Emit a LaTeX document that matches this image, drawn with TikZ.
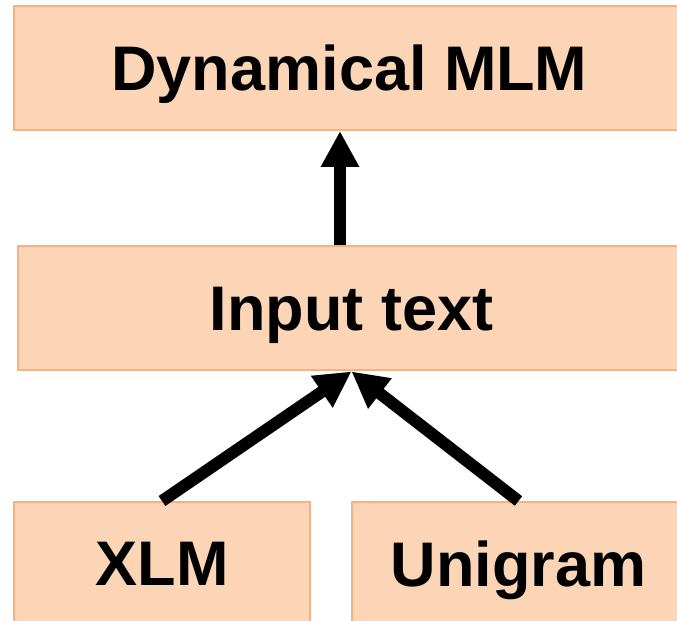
\documentclass[tikz,border=0pt]{standalone}
\usepackage{fontspec}
\setmainfont{Liberation Sans}
\usetikzlibrary{arrows.meta}

\definecolor{boxfill}{HTML}{FBD5B5}
\definecolor{boxline}{HTML}{F4B183}

\begin{document}
\begin{tikzpicture}[x=0.5pt,y=-0.5pt,
blk/.style={draw=boxline,fill=boxfill,line width=1pt,inner sep=0pt,
 minimum height=62pt,text depth=0pt,
 font=\fontsize{31.5}{36}\selectfont\bfseries},
arr/.style={line width=6pt,-{Triangle[length=18pt,width=18pt]}}]

 \useasboundingbox (0,0) rectangle (677,621);
 % boxes
 \node[blk,minimum width=335.5pt] (dyn) at (349.5,68) {Dynamical MLM};
 \node[blk,minimum width=333.5pt] (inp) at (351.5,308.5) {Input text};
 \node[blk,minimum width=148pt] (xlm) at (162,564) {XLM};
 \node[blk,minimum width=166.5pt] (uni) at (518.5,564) {Unigram};
 %
 \draw[arr] ([xshift=-5.75pt]inp.north) -- ([xshift=-4.75pt]dyn.south);
 \foreach\X in {xlm,uni}
 {\draw[arr] (\X.north) -- (inp.south);}
\end{tikzpicture}
\end{document}
